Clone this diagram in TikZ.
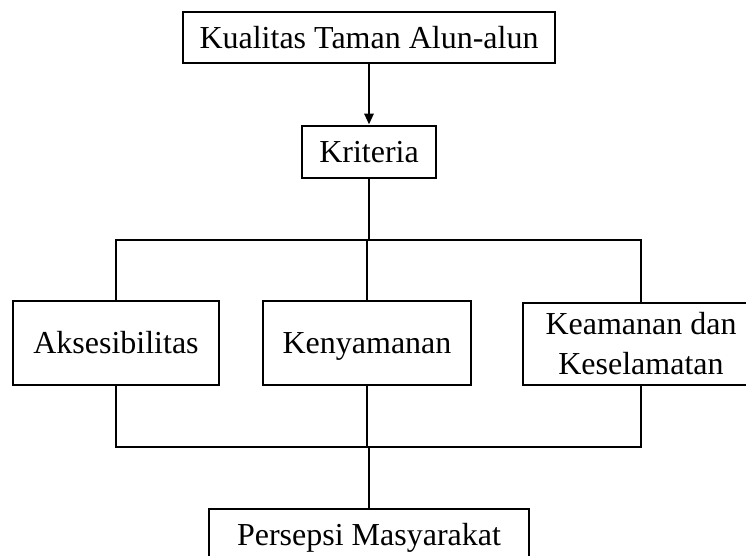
\documentclass[tikz,border=0pt]{standalone}
\usepackage{fontspec}
\setmainfont{Liberation Serif}
\usetikzlibrary{arrows.meta}
\begin{document}
\begin{tikzpicture}[x=1pt,y=-1pt,
  box/.style={draw=black,line width=2.8pt,inner sep=0pt,align=center,
    font=\fontsize{32}{40}\selectfont},
  one/.style={text height=21.5pt,text depth=0pt},
  conn/.style={draw=black,line width=2.8pt}]
\useasboundingbox (0,0) rectangle (746,556);
\clip (0,0) rectangle (746,556);
\node[box,one,minimum width=372pt,minimum height=51pt] (top) at (369,37.5) {Kualitas Taman Alun-alun};
\node[box,one,minimum width=134pt,minimum height=52pt] (krit) at (369,152) {Kriteria};
\node[box,one,minimum width=206pt,minimum height=84pt] (aks) at (116,343) {Aksesibilitas};
\node[box,one,minimum width=208pt,minimum height=84pt] (ken) at (367,343) {Kenyamanan};
\node[box,minimum width=236pt,minimum height=82pt] (kea) at (641,344) {Keamanan dan\\Keselamatan};
\node[box,one,minimum width=320pt,minimum height=51pt] (per) at (369,534.5) {Persepsi Masyarakat};
\coordinate (jt) at (369,240);
\coordinate (jb) at (369,447);
\draw[conn,-{Triangle[length=11pt,width=9pt]}] (top.south) -- (krit.north);
\draw[conn] (krit.south) -- (jt);
\draw[conn] (aks.north) -- (aks.north |- jt) -- (kea.north |- jt) -- (kea.north);
\draw[conn] (jt) -- (jt -| ken.north) -- (ken.north);
\draw[conn] (aks.south) -- (aks.south |- jb) -- (kea.south |- jb) -- (kea.south);
\draw[conn] (ken.south) -- (ken.south |- jb);
\draw[conn] (jb) -- (per.north);
\end{tikzpicture}
\end{document}
